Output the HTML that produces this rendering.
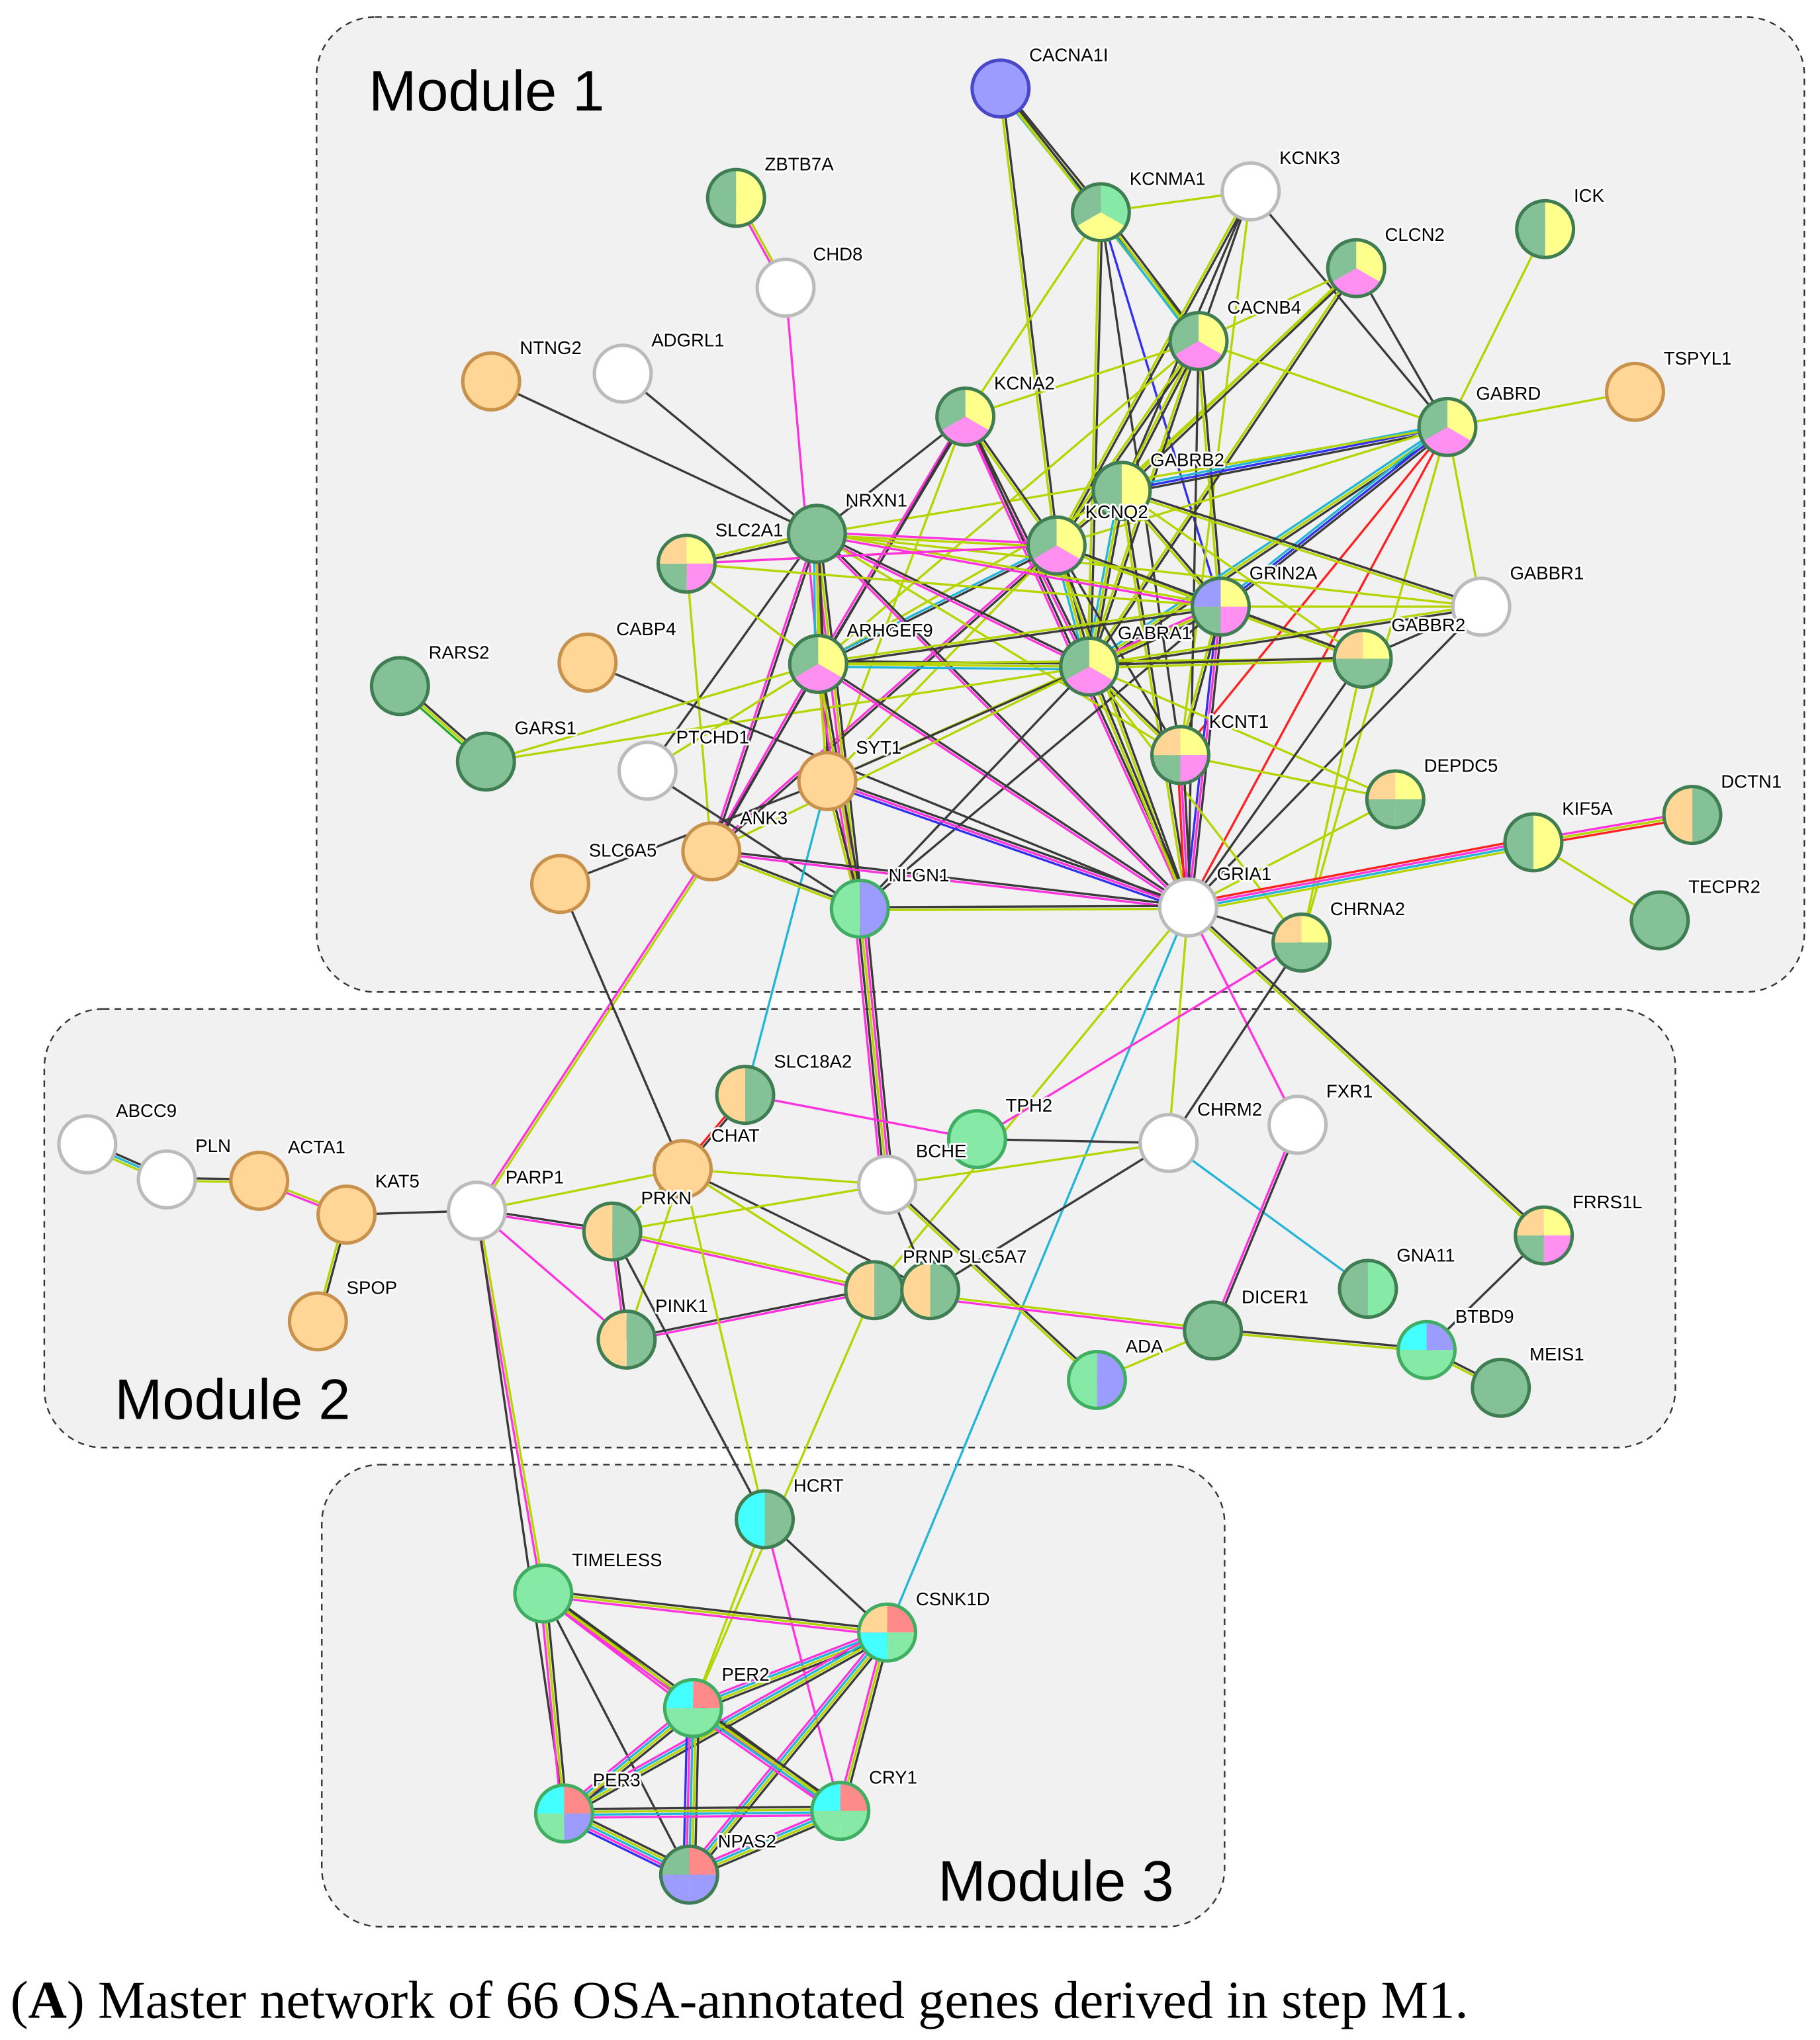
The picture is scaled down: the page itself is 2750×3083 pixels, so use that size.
<!DOCTYPE html>
<html><head><meta charset="utf-8"><style>
html,body{margin:0;padding:0;background:#fff;}
svg{display:block;}
.lb{font-family:"Liberation Sans",sans-serif;font-size:14px;fill:#000;paint-order:stroke;stroke:#fff;stroke-width:3px;stroke-linejoin:round;}
.mod{font-family:"Liberation Sans",sans-serif;font-size:44px;fill:#000;}
.cap{font-family:"Liberation Serif",serif;font-size:41px;fill:#000;}
</style></head><body>
<svg id="s" width="2750" height="3083" viewBox="0 0 1397 1567" preserveAspectRatio="none" xmlns="http://www.w3.org/2000/svg">
<rect x="243" y="13" width="1142" height="749" rx="45" fill="#f1f1f1" stroke="#333" stroke-width="1.2" stroke-dasharray="5,4"/>
<rect x="34" y="775" width="1252" height="337" rx="45" fill="#f1f1f1" stroke="#333" stroke-width="1.2" stroke-dasharray="5,4"/>
<rect x="247" y="1125" width="693" height="355" rx="45" fill="#f1f1f1" stroke="#333" stroke-width="1.2" stroke-dasharray="5,4"/>
<text class="mod" x="283" y="85">Module 1</text>
<text class="mod" x="88" y="1090">Module 2</text>
<text class="mod" x="720" y="1460">Module 3</text>
<g id="edges"></g>
<g id="nodes"></g>
<g id="labels">
<text class="lb" x="790" y="47">CACNA1I</text>
<text class="lb" x="587" y="131">ZBTB7A</text>
<text class="lb" x="624" y="200">CHD8</text>
<text class="lb" x="867" y="142">KCNMA1</text>
<text class="lb" x="982" y="126">KCNK3</text>
<text class="lb" x="1208" y="155">ICK</text>
<text class="lb" x="1063" y="185">CLCN2</text>
<text class="lb" x="942" y="241">CACNB4</text>
<text class="lb" x="1277" y="280">TSPYL1</text>
<text class="lb" x="1133" y="307">GABRD</text>
<text class="lb" x="399" y="272">NTNG2</text>
<text class="lb" x="500" y="266">ADGRL1</text>
<text class="lb" x="763" y="299">KCNA2</text>
<text class="lb" x="883" y="358">GABRB2</text>
<text class="lb" x="833" y="398">KCNQ2</text>
<text class="lb" x="649" y="389">NRXN1</text>
<text class="lb" x="549" y="412">SLC2A1</text>
<text class="lb" x="959" y="445">GRIN2A</text>
<text class="lb" x="1159" y="445">GABBR1</text>
<text class="lb" x="473" y="488">CABP4</text>
<text class="lb" x="329" y="506">RARS2</text>
<text class="lb" x="650" y="489">ARHGEF9</text>
<text class="lb" x="858" y="491">GABRA1</text>
<text class="lb" x="1068" y="485">GABBR2</text>
<text class="lb" x="395" y="564">GARS1</text>
<text class="lb" x="519" y="571">PTCHD1</text>
<text class="lb" x="657" y="579">SYT1</text>
<text class="lb" x="928" y="559">KCNT1</text>
<text class="lb" x="1093" y="593">DEPDC5</text>
<text class="lb" x="1199" y="626">KIF5A</text>
<text class="lb" x="1321" y="605">DCTN1</text>
<text class="lb" x="568" y="633">ANK3</text>
<text class="lb" x="452" y="658">SLC6A5</text>
<text class="lb" x="682" y="677">NLGN1</text>
<text class="lb" x="934" y="676">GRIA1</text>
<text class="lb" x="1021" y="703">CHRNA2</text>
<text class="lb" x="1296" y="686">TECPR2</text>
<text class="lb" x="89" y="858">ABCC9</text>
<text class="lb" x="150" y="885">PLN</text>
<text class="lb" x="221" y="886">ACTA1</text>
<text class="lb" x="288" y="912">KAT5</text>
<text class="lb" x="266" y="994">SPOP</text>
<text class="lb" x="388" y="909">PARP1</text>
<text class="lb" x="594" y="820">SLC18A2</text>
<text class="lb" x="546" y="877">CHAT</text>
<text class="lb" x="492" y="925">PRKN</text>
<text class="lb" x="703" y="889">BCHE</text>
<text class="lb" x="772" y="854">TPH2</text>
<text class="lb" x="919" y="857">CHRM2</text>
<text class="lb" x="1018" y="843">FXR1</text>
<text class="lb" x="1207" y="928">FRRS1L</text>
<text class="lb" x="1072" y="969">GNA11</text>
<text class="lb" x="693" y="970">PRNP</text>
<text class="lb" x="736" y="970">SLC5A7</text>
<text class="lb" x="503" y="1008">PINK1</text>
<text class="lb" x="953" y="1001">DICER1</text>
<text class="lb" x="1117" y="1016">BTBD9</text>
<text class="lb" x="1174" y="1045">MEIS1</text>
<text class="lb" x="864" y="1039">ADA</text>
<text class="lb" x="609" y="1146">HCRT</text>
<text class="lb" x="439" y="1203">TIMELESS</text>
<text class="lb" x="703" y="1233">CSNK1D</text>
<text class="lb" x="554" y="1291">PER2</text>
<text class="lb" x="455" y="1372">PER3</text>
<text class="lb" x="667" y="1370">CRY1</text>
<text class="lb" x="551" y="1419">NPAS2</text>
</g>
<text class="cap" x="8" y="1550"><tspan>(</tspan><tspan font-weight="bold">A</tspan><tspan>) Master network of 66 OSA-annotated genes derived in step M1.</tspan></text>
</svg>
<script>
var N={CACNA1I:[768,68,"B"],ZBTB7A:[565,152,"YG"],CHD8:[603,221,"W"],KCNMA1:[845,163,"LYG"],KCNK3:[960,147,"W"],ICK:[1186,176,"YG"],CLCN2:[1041,206,"YMG"],CACNB4:[920,262,"YMG"],TSPYL1:[1255,301,"O"],GABRD:[1111,328,"YMG"],NTNG2:[377,293,"O"],ADGRL1:[478,287,"W"],KCNA2:[741,320,"YMG"],GABRB2:[861,377,"YG"],KCNQ2:[811,419,"YMG"],NRXN1:[627,410,"G"],SLC2A1:[527,433,"YMGO"],GRIN2A:[937,466,"YMGB"],GABBR1:[1137,466,"W"],CABP4:[451,509,"O"],RARS2:[307,527,"G"],ARHGEF9:[628,510,"YMG"],GABRA1:[836,512,"YMG"],GABBR2:[1046,506,"YGGO"],GARS1:[373,585,"G"],PTCHD1:[497,592,"W"],SYT1:[635,600,"O"],KCNT1:[906,580,"YMGO"],DEPDC5:[1071,614,"YGGO"],KIF5A:[1177,647,"YG"],DCTN1:[1299,626,"GO"],TECPR2:[1274,707,"G"],ANK3:[546,654,"O"],SLC6A5:[430,679,"O"],NLGN1:[660,698,"BL"],GRIA1:[912,697,"W"],CHRNA2:[999,724,"YGGO"],ABCC9:[67,879,"W"],PLN:[128,906,"W"],ACTA1:[199,907,"O"],KAT5:[266,933,"O"],SPOP:[244,1015,"O"],PARP1:[366,930,"W"],SLC18A2:[572,841,"GO"],CHAT:[524,898,"O"],PRKN:[470,946,"GO"],BCHE:[681,910,"W"],TPH2:[750,875,"L"],CHRM2:[897,878,"W"],FXR1:[996,864,"W"],FRRS1L:[1185,949,"YMGO"],GNA11:[1050,990,"LG"],PRNP:[671,991,"GO"],SLC5A7:[714,991,"GO"],PINK1:[481,1029,"GO"],DICER1:[931,1022,"G"],BTBD9:[1095,1037,"BLLC"],MEIS1:[1152,1066,"G"],ADA:[842,1060,"BL"],HCRT:[587,1167,"GC"],TIMELESS:[417,1224,"L"],CSNK1D:[681,1254,"RLCO"],PER2:[532,1312,"RLLC"],PER3:[433,1393,"RBLC"],CRY1:[645,1391,"RLLC"],NPAS2:[529,1440,"RBBG"]};
var E=`CACNA1I KCNMA1 kyc;CACNA1I CACNB4 ky;CACNA1I KCNQ2 ky;ZBTB7A CHD8 ym;CHD8 ARHGEF9 m;KCNMA1 KCNA2 y;KCNMA1 CACNB4 kyc;KCNMA1 KCNK3 y;KCNMA1 GRIN2A b;KCNMA1 GABRA1 ky;KCNMA1 KCNT1 k;KCNK3 CACNB4 k;KCNK3 GABRD k;KCNK3 KCNQ2 ky;KCNK3 GABRB2 k;KCNK3 KCNT1 y;ICK GABRD y;CLCN2 GABRD k;CLCN2 CACNB4 y;CLCN2 GABRA1 ky;CLCN2 KCNQ2 y;CLCN2 GABRB2 ky;CACNB4 GABRD y;CACNB4 KCNA2 y;CACNB4 KCNQ2 ky;CACNB4 GABRA1 ky;CACNB4 GABRB2 ky;CACNB4 GRIN2A ky;CACNB4 GRIA1 k;CACNB4 ARHGEF9 y;TSPYL1 GABRD y;GABRD GABRB2 kbc;GABRD GABRA1 kyc;GABRD GRIN2A kbc;GABRD GRIA1 r;GABRD GABBR1 y;GABRD KCNQ2 y;GABRD NRXN1 y;GABRD KCNT1 r;GABRD CHRNA2 y;NTNG2 NRXN1 k;ADGRL1 NRXN1 k;KCNA2 NRXN1 k;KCNA2 KCNQ2 ky;KCNA2 GABRA1 km;KCNA2 ARHGEF9 km;KCNA2 GRIA1 km;KCNA2 SYT1 y;KCNA2 ANK3 k;GABRB2 GABRA1 kyc;GABRB2 KCNQ2 ky;GABRB2 ARHGEF9 y;GABRB2 GRIN2A ky;GABRB2 GABBR2 y;GABRB2 GRIA1 ky;GABRB2 GABBR1 ky;KCNQ2 NRXN1 ym;KCNQ2 ARHGEF9 kc;KCNQ2 GABRA1 kyc;KCNQ2 GRIN2A ky;KCNQ2 GABBR2 ky;KCNQ2 GRIA1 ky;KCNQ2 ANK3 km;KCNQ2 SYT1 y;KCNQ2 KCNT1 k;KCNQ2 SLC2A1 y;NRXN1 SLC2A1 ky;NRXN1 ARHGEF9 kyc;NRXN1 NLGN1 kym;NRXN1 GRIA1 km;NRXN1 GABRA1 km;NRXN1 GRIN2A ym;NRXN1 SYT1 ky;NRXN1 GABBR1 y;NRXN1 PTCHD1 k;NRXN1 ANK3 km;NRXN1 KCNT1 y;GARS1 GABRA1 y;SLC2A1 ARHGEF9 y;SLC2A1 ANK3 y;SLC2A1 GRIN2A y;SLC2A1 KCNQ2 m;GRIN2A GABRA1 kym;GRIN2A GABBR2 ky;GRIN2A GRIA1 kmb;GRIN2A ARHGEF9 ky;GRIN2A KCNT1 ky;GRIN2A GABBR1 y;GRIN2A SYT1 y;GRIN2A NLGN1 k;GABBR1 GABBR2 k;GABBR1 GABRA1 ky;GABBR1 GRIA1 k;CABP4 GRIA1 k;RARS2 GARS1 kyg;ARHGEF9 GABRA1 kyc;ARHGEF9 NLGN1 kym;ARHGEF9 GRIA1 km;ARHGEF9 ANK3 km;ARHGEF9 GABBR2 y;ARHGEF9 SYT1 y;ARHGEF9 GARS1 y;ARHGEF9 PTCHD1 y;GABRA1 GABBR2 ky;GABRA1 GRIA1 ky;GABRA1 KCNT1 ky;GABRA1 SYT1 k;GABRA1 ANK3 y;GABRA1 NLGN1 k;GABRA1 DEPDC5 y;GABRA1 CHRNA2 y;GABBR2 GRIA1 k;GABBR2 CHRNA2 y;PTCHD1 NLGN1 k;SYT1 GRIA1 kmb;SYT1 NLGN1 ky;SYT1 SLC6A5 k;SYT1 SLC18A2 c;KCNT1 GRIA1 kmr;KCNT1 DEPDC5 y;DEPDC5 GRIA1 y;KIF5A GRIA1 ycmr;KIF5A DCTN1 myr;KIF5A TECPR2 y;ANK3 NLGN1 ky;ANK3 GRIA1 km;ANK3 PARP1 ym;SLC6A5 CHAT k;NLGN1 GRIA1 ky;NLGN1 BCHE kmykm;GRIA1 CHRNA2 k;GRIA1 CHRM2 y;GRIA1 CSNK1D c;GRIA1 FXR1 m;GRIA1 FRRS1L ky;GRIA1 PRNP y;CHRNA2 TPH2 m;CHRNA2 CHRM2 k;ABCC9 PLN kcy;PLN ACTA1 ky;ACTA1 KAT5 ym;KAT5 SPOP ky;KAT5 PARP1 k;PARP1 CHAT y;PARP1 PRKN km;PARP1 PINK1 m;PARP1 TIMELESS ym;PARP1 PER3 k;SLC18A2 CHAT kr;SLC18A2 TPH2 m;CHAT BCHE y;CHAT PRKN y;CHAT SLC5A7 k;CHAT PRNP y;CHAT PINK1 y;PRKN PINK1 km;PRKN PRNP ym;PRKN HCRT k;PRKN BCHE y;BCHE CHRM2 y;BCHE ADA ky;BCHE SLC5A7 k;TPH2 CHRM2 k;CHRM2 SLC5A7 k;CHRM2 GNA11 c;FXR1 DICER1 km;FRRS1L BTBD9 k;PINK1 PRNP km;PRNP DICER1 ym;DICER1 BTBD9 ky;DICER1 ADA y;BTBD9 MEIS1 ky;HCRT CSNK1D k;HCRT PER2 y;HCRT CRY1 m;CHAT HCRT y;PRNP PER2 y;TIMELESS CSNK1D kym;TIMELESS PER2 kym;TIMELESS PER3 kym;TIMELESS CRY1 kym;TIMELESS NPAS2 k;CSNK1D PER2 kycm;CSNK1D PER3 kycm;CSNK1D CRY1 kym;CSNK1D NPAS2 kycm;PER2 PER3 kycm;PER2 CRY1 kycm;PER2 NPAS2 kycmb;PER3 CRY1 kycm;PER3 NPAS2 kycmb;CRY1 NPAS2 kycm`;
var C={k:"#3a3a3a",y:"#b5d400",m:"#ff33dd",c:"#22b5d8",b:"#3030ee",r:"#ff2020",g:"#22aa22"};
var F={G:"#84c196",Y:"#ffff8c",M:"#ff90f2",O:"#ffd696",B:"#9c9cff",C:"#44ffff",R:"#ff8a8a",L:"#86eaa6",W:"#ffffff"};
var ns="http://www.w3.org/2000/svg";
function el(t,a,p){var e=document.createElementNS(ns,t);for(var k in a)e.setAttribute(k,a[k]);p.appendChild(e);return e;}
var eg=document.getElementById("edges"),ng=document.getElementById("nodes");
E.split(";").forEach(function(s){var p=s.trim().split(" ");var a=N[p[0]],b=N[p[1]];if(!a||!b)return;var t=p[2];var dx=b[0]-a[0],dy=b[1]-a[1],L=Math.hypot(dx,dy);var nx=-dy/L,ny=dx/L;var n=t.length;for(var i=0;i<n;i++){var o=(i-(n-1)/2)*2.2;el("line",{x1:a[0]+nx*o,y1:a[1]+ny*o,x2:b[0]+nx*o,y2:b[1]+ny*o,stroke:C[t[i]],"stroke-width":1.7},eg);}});
var R=23;
for(var k in N){var d=N[k],x=d[0],y=d[1],c=d[2],n=c.length;var st;
 if(c=="W")st="#bbbbbb";else if(c.indexOf("G")>=0)st="#3f7d52";else if(c=="B")st="#4848c8";else if(c=="L")st="#3fae62";else if(c=="O")st="#c8914c";else if(c.indexOf("L")>=0)st="#3fae62";else st="#3f7d52";
 if(n==1){el("circle",{cx:x,cy:y,r:R,fill:F[c]},ng);}
 else{for(var i=0;i<n;i++){var a0=-Math.PI/2+i*2*Math.PI/n,a1=a0+2*Math.PI/n;el("path",{d:"M"+x+","+y+"L"+(x+R*Math.cos(a0))+","+(y+R*Math.sin(a0))+"A"+R+","+R+" 0 0 1 "+(x+R*Math.cos(a1))+","+(y+R*Math.sin(a1))+"Z",fill:F[c[i]]},ng);}}
 el("circle",{cx:x,cy:y,r:R-1.2,fill:"none",stroke:st,"stroke-width":2.6},ng);}
</script>
</body></html>
